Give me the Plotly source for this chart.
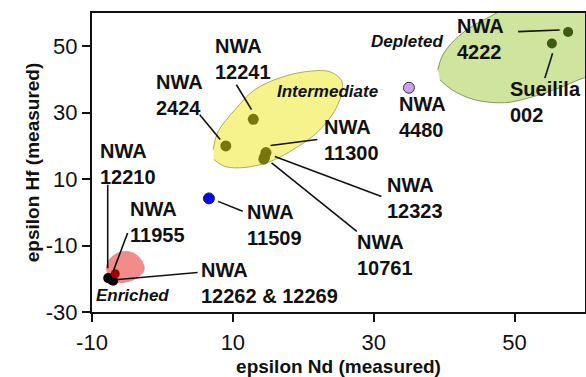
import plotly.graph_objects as go

# ---- data (epsilon Nd, epsilon Hf) ----
inter_names = ["NWA 12241", "NWA 2424", "NWA 11300", "NWA 12323", "NWA 10761"]
inter_nd = [12.9, 9.0, 14.7, 14.5, 14.4]
inter_hf = [28.0, 20.0, 18.0, 16.6, 16.0]

depl_names = ["NWA 4222", "Sueilila 002"]
depl_nd = [57.6, 55.3]
depl_hf = [54.3, 50.8]

mid_names = ["NWA 4480"]
mid_nd = [35.0]
mid_hf = [37.5]

blue_names = ["NWA 11509"]
blue_nd = [6.6]
blue_hf = [4.2]

enr_red_names = ["NWA 11955"]
enr_red_nd = [-6.7]
enr_red_hf = [-18.5]

enr_black_names = ["NWA 12210", "NWA 12262", "NWA 12269"]
enr_black_nd = [-7.7, -7.3, -7.0]
enr_black_hf = [-19.8, -20.2, -20.6]

# field outlines (epsilon Nd, epsilon Hf)
inter_field_nd = [7.2, 7.9, 10.3, 13.1, 16.7, 20.2, 23.8, 25.5, 24.9, 22.1, 18.1, 15.3, 11.7, 8.9, 7.3]
inter_field_hf = [18.9, 24.3, 30.9, 36.9, 40.5, 42.3, 42.3, 39.3, 32.4, 24.3, 18.3, 15.3, 13.5, 13.8, 15.9]
depl_field_nd = [39.1, 39.8, 41.5, 43.6, 46.4, 49.3, 62.0, 62.0, 59.9, 56.4, 52.1, 48.6, 44.3, 41.1, 39.4]
depl_field_hf = [42.9, 47.4, 51.9, 55.5, 58.8, 61.5, 62.4, 41.4, 40.5, 37.5, 34.5, 33.0, 33.9, 36.9, 39.9]
enr_field_nd = [-8.0, -7.7, -6.7, -5.5, -4.0, -2.9, -2.6, -3.5, -4.9, -6.6, -7.6]
enr_field_hf = [-17.2, -14.8, -12.7, -11.8, -12.4, -14.8, -17.2, -19.6, -20.8, -21.1, -19.9]

x_ticks = [-10, 10, 30, 50]
x_ticktext = ["-10", "10", "30", "50"]
y_ticks = [-30, -10, 10, 30, 50]
y_ticktext = ["-30", "-10", "10", "30", "50"]

# labels: text, left x, centre y (data units)
labels = [
    ("NWA<br>12241", 7.2, 46.3),
    ("NWA<br>2424", -1.2, 35.2),
    ("NWA<br>12210", -9.15, 14.4),
    ("NWA<br>11955", -4.9, -2.9),
    ("NWA<br>12262 &amp; 12269", 5.2, -21.2),
    ("NWA<br>11509", 11.7, -3.7),
    ("NWA<br>12323", 31.6, 4.4),
    ("NWA<br>10761", 27.3, -12.8),
    ("NWA<br>11300", 22.6, 21.7),
    ("NWA<br>4480", 33.3, 28.8),
    ("NWA<br>4222", 41.6, 52.3),
    ("Sueilila<br>002", 49.0, 33.1),
]
field_labels = [
    ("Intermediate", 23.5, 36.3),
    ("Depleted", 34.7, 51.3),
    ("Enriched", -4.3, -25.0),
]
# leader lines: (x0, y0, x1, y1)
leaders = [
    (10.5, 38.4, 12.65, 30.9),
    (5.3, 29.4, 8.2, 21.9),
    (-7.77, 8.3, -7.77, -16.8),
    (-4.94, -6.2, -6.98, -17.7),
    (-6.3, -20.2, 5.0, -18.1),
    (7.9, 3.3, 11.4, 0.3),
    (15.35, 20.1, 22.0, 21.9),
    (15.96, 16.8, 31.1, 4.8),
    (15.5, 14.9, 27.6, -5.7),
    (50.5, 54.4, 56.4, 54.9),
    (55.4, 47.9, 54.3, 40.4),
]

FONT = "Liberation Sans, Arial, sans-serif"

fig = go.Figure()

fig.add_trace(go.Scatter(x=inter_field_nd, y=inter_field_hf, mode="lines", fill="toself",
                         line=dict(shape="spline", color="#9a9a3a", width=0.8),
                         fillcolor="#f6f38c", hoverinfo="skip"))
fig.add_trace(go.Scatter(x=depl_field_nd, y=depl_field_hf, mode="lines", fill="toself",
                         line=dict(shape="spline", color="#6f7f4a", width=0.8),
                         fillcolor="#cfe49c", hoverinfo="skip"))
fig.add_trace(go.Scatter(x=enr_field_nd, y=enr_field_hf, mode="lines", fill="toself",
                         line=dict(shape="spline", color="#e58080", width=0.8),
                         fillcolor="#f28c8c", hoverinfo="skip"))

for x0, y0, x1, y1 in leaders:
    fig.add_shape(type="line", x0=x0, y0=y0, x1=x1, y1=y1, xref="x", yref="y",
                  line=dict(color="#111111", width=1.6))

fig.add_trace(go.Scatter(x=inter_nd, y=inter_hf, mode="markers", text=inter_names,
                         marker=dict(size=11, color="#78760f", line=dict(width=0))))
fig.add_trace(go.Scatter(x=depl_nd, y=depl_hf, mode="markers", text=depl_names,
                         marker=dict(size=10, color="#3b5a12", line=dict(width=0))))
fig.add_trace(go.Scatter(x=mid_nd, y=mid_hf, mode="markers", text=mid_names,
                         marker=dict(size=11, color="#c9a2f2", line=dict(width=1, color="#333333"))))
fig.add_trace(go.Scatter(x=blue_nd, y=blue_hf, mode="markers", text=blue_names,
                         marker=dict(size=11, color="#0a0ae6", line=dict(width=1, color="#222244"))))
fig.add_trace(go.Scatter(x=enr_black_nd, y=enr_black_hf, mode="markers", text=enr_black_names,
                         marker=dict(size=10, color="#000000", line=dict(width=0))))
fig.add_trace(go.Scatter(x=enr_red_nd, y=enr_red_hf, mode="markers", text=enr_red_names,
                         marker=dict(size=9, color="#a00000", line=dict(width=0))))

for txt, x, y in labels:
    fig.add_annotation(x=x, y=y, xref="x", yref="y", text="<b>" + txt + "</b>",
                       showarrow=False, xanchor="left", yanchor="middle", align="left",
                       font=dict(family=FONT, size=20, color="#111111"))
for txt, x, y in field_labels:
    fig.add_annotation(x=x, y=y, xref="x", yref="y", text="<b><i>" + txt + "</i></b>",
                       showarrow=False, xanchor="center", yanchor="middle",
                       font=dict(family=FONT, size=17, color="#111111"))

axis_common = dict(showgrid=False, zeroline=False, showline=True, linecolor="#111111",
                   linewidth=2, mirror=True, ticks="outside", ticklen=8, tickwidth=1.5,
                   tickcolor="#111111", tickfont=dict(family=FONT, size=22, color="#111111"))

fig.update_xaxes(range=[-10, 60], tickvals=x_ticks, ticktext=x_ticktext,
                 title=dict(text="<b>epsilon Nd (measured)</b>", standoff=6,
                            font=dict(family=FONT, size=19, color="#111111")),
                 ticklabelstandoff=2, **axis_common)
fig.update_yaxes(range=[-30, 60], tickvals=y_ticks, ticktext=y_ticktext,
                 title=dict(text="<b>epsilon Hf (measured)</b>", standoff=1,
                            font=dict(family=FONT, size=19, color="#111111")),
                 ticklabelstandoff=0, **axis_common)

fig.update_layout(width=586, height=377, showlegend=False, hovermode=False,
                  margin=dict(l=92, r=1, t=13, b=65, autoexpand=False),
                  paper_bgcolor="white", plot_bgcolor="white")

# remove the default page margin so the figure sits at the window's top-left corner
fig.write_html("out.html", config={"displayModeBar": False},
               post_script="document.body.style.margin='0';document.body.style.overflow='hidden';")
